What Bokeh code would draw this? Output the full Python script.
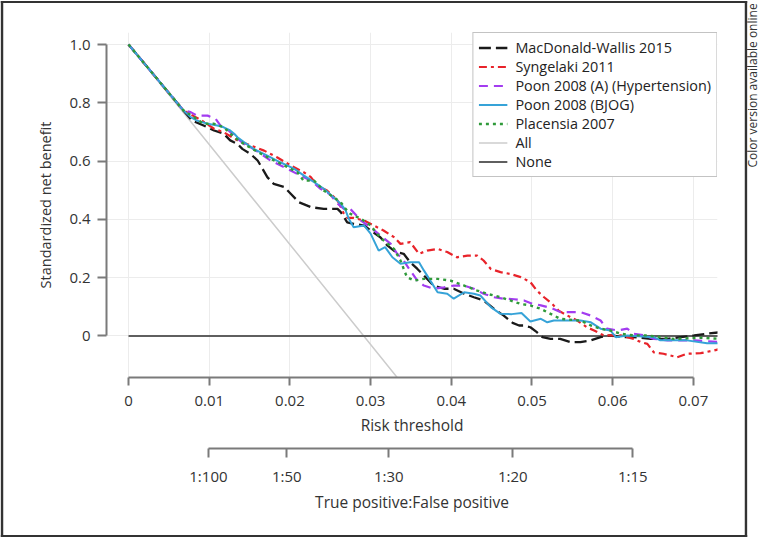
from bokeh.plotting import figure
from bokeh.models import (LinearAxis, FixedTicker, Legend, LegendItem, Label, Range1d)
from bokeh.embed import file_html
from bokeh.resources import INLINE

# ---------------- data ----------------
mw_x = [0, .0068, .0079, .0093, .0106, .0118, .0126, .0135, .0141, .0151, .0160, .0166, .0172,
        .0180, .0193, .0201, .0211, .0226, .0242, .0259, .0263, .0267, .0271, .0279, .0292, .0300,
        .0312, .0321, .0331, .0341, .0349, .0358, .0368, .0378, .0391, .0403, .0416, .0428, .0440,
        .0453, .0465, .0476, .0484, .0490, .0498, .0506, .0513, .0523, .0535, .0548, .0560, .0573,
        .0585, .0597, .0610, .0626, .0647, .0668, .0684, .0701, .0717, .0734]
mw_y = [1.0, .774, .739, .722, .705, .694, .671, .659, .642, .625, .602, .574, .545,
        .522, .511, .488, .459, .442, .436, .436, .425, .408, .390, .385, .379, .362,
        .339, .310, .288, .282, .253, .230, .202, .173, .162, .162, .145, .133, .122,
        .093, .070, .045, .036, .036, .030, .013, -.004, -.010, -.010, -.021, -.021, -.015,
        -.004, .002, -.004, -.004, -.010, -.010, -.004, .002, .008, .013]

sy_x = [0, .0068, .0091, .0106, .0118, .0135, .0151, .0168, .0184, .0201, .0217, .0226, .0234,
        .0246, .0259, .0267, .0271, .0279, .0292, .0304, .0316, .0329, .0337, .0349, .0360, .0370,
        .0383, .0395, .0407, .0420, .0432, .0440, .0449, .0461, .0473, .0486, .0498, .0506, .0515,
        .0525, .0533, .0544, .0556, .0568, .0577, .0589, .0610, .0626, .0635, .0643, .0651, .0663,
        .0680, .0692, .0709, .0725, .0734]
sy_y = [1.0, .774, .739, .711, .699, .671, .654, .636, .613, .585, .562, .545, .516,
        .499, .465, .419, .405, .405, .396, .379, .362, .339, .316, .322, .282, .293,
        .299, .288, .270, .276, .276, .259, .230, .219, .213, .202, .185, .156, .133,
        .110, .087, .070, .053, .030, .019, .002, .002, -.010, -.021, -.027, -.056, -.061,
        -.073, -.061, -.059, -.050, -.044]

pa_x = [0, .0068, .0077, .0085, .0098, .0108, .0114, .0124, .0133, .0143, .0151, .0164, .0176,
        .0193, .0209, .0226, .0238, .0250, .0259, .0267, .0275, .0288, .0300, .0312, .0325, .0333,
        .0341, .0349, .0358, .0366, .0378, .0391, .0403, .0416, .0428, .0440, .0453, .0465, .0478,
        .0490, .0498, .0511, .0523, .0535, .0560, .0573, .0585, .0593, .0606, .0618, .0626, .0639,
        .0651, .0668, .0701, .0734]
pa_y = [1.0, .774, .768, .756, .756, .745, .722, .705, .682, .659, .648, .625, .602,
        .579, .556, .533, .505, .485, .454, .436, .436, .396, .373, .345, .316, .282,
        .259, .225, .190, .173, .162, .167, .173, .173, .162, .145, .133, .128, .126,
        .122, .113, .105, .097, .082, .082, .070, .053, .025, .019, .025, .008, .002,
        -.010, -.015, -.015, -.021]

pb_x = [0, .0068, .0077, .0085, .0098, .0110, .0118, .0126, .0131, .0135, .0143, .0155, .0172,
        .0188, .0205, .0217, .0230, .0242, .0254, .0263, .0269, .0273, .0279, .0292, .0300, .0310,
        .0318, .0327, .0337, .0349, .0360, .0366, .0374, .0383, .0395, .0403, .0416, .0428, .0436,
        .0449, .0461, .0475, .0487, .0498, .0511, .0519, .0527, .0560, .0573, .0585, .0597, .0604,
        .0618, .0651, .0659, .0692, .0717, .0734]
pb_y = [1.0, .774, .751, .739, .728, .722, .716, .705, .694, .682, .665, .642, .619,
        .596, .574, .551, .528, .505, .476, .454, .431, .402, .373, .379, .351, .293,
        .305, .270, .248, .253, .253, .225, .190, .150, .145, .128, .150, .145, .139,
        .099, .076, .075, .079, .050, .059, .047, .053, .053, .047, .025, .019, -.004,
        .002, -.004, -.015, -.015, -.025, -.025]

pl_x = [0, .0068, .0081, .0093, .0106, .0118, .0131, .0143, .0160, .0176, .0193, .0209, .0217,
        .0230, .0242, .0254, .0263, .0269, .0275, .0288, .0300, .0308, .0316, .0329, .0337, .0345,
        .0354, .0366, .0383, .0399, .0416, .0432, .0444, .0461, .0473, .0486, .0498, .0511, .0523,
        .0535, .0560, .0573, .0585, .0597, .0610, .0626, .0643, .0659, .0676, .0709, .0734]
pl_y = [1.0, .774, .751, .728, .728, .716, .682, .659, .631, .608, .585, .562, .533,
        .533, .499, .476, .459, .436, .419, .402, .379, .351, .328, .299, .259, .202,
        .190, .196, .196, .190, .173, .156, .145, .133, .122, .110, .105, .093, .076,
        .059, .053, .036, .025, .019, .008, .002, .002, -.004, -.010, -.006, -.010]

all_x = [0, 0.01, 0.02, 0.03, 0.0334]
all_y = [1.0, 0.657, 0.314, -0.029, -0.146]

none_x = [0, 0.0734]
none_y = [0, 0]

series_names = ["MacDonald-Wallis 2015", "Syngelaki 2011", "Poon 2008 (A) (Hypertension)",
                "Poon 2008 (BJOG)", "Placensia 2007", "All", "None"]

x_ticks = [0, 0.01, 0.02, 0.03, 0.04, 0.05, 0.06, 0.07]
x_tick_labels = ["0", "0.01", "0.02", "0.03", "0.04", "0.05", "0.06", "0.07"]
y_ticks = [0, 0.2, 0.4, 0.6, 0.8, 1.0]
y_tick_labels = ["0", "0.2", "0.4", "0.6", "0.8", "1.0"]
odds = [100, 50, 30, 20, 15]
odds_labels = ["1:100", "1:50", "1:30", "1:20", "1:15"]

FONT = "Open Sans"

p = figure(width=761, height=538, output_backend="svg", toolbar_location=None,
           x_range=Range1d(-0.00273, 0.07299), y_range=Range1d(-0.1424, 1.0412),
           min_border_left=106, min_border_top=32, min_border_right=44, min_border_bottom=161)
p.outline_line_color = None
p.background_fill_color = "white"
p.border_fill_color = "white"

# grids
p.xgrid.ticker = FixedTicker(ticks=x_ticks)
p.ygrid.ticker = FixedTicker(ticks=y_ticks)
for g in (p.xgrid, p.ygrid):
    g.grid_line_color = "#ececec"
    g.grid_line_width = 1

def style_axis(ax, tick_size="15px", title_size="15.5px"):
    ax.axis_line_color = "#7a7a7a"
    ax.axis_line_width = 2
    ax.major_tick_line_color = "#7a7a7a"
    ax.major_tick_line_width = 2
    ax.major_tick_in = 0
    ax.minor_tick_line_color = None
    ax.major_label_text_font = FONT
    ax.major_label_text_font_size = tick_size
    ax.major_label_text_color = "#333333"
    ax.axis_label_text_font = FONT
    ax.axis_label_text_font_size = title_size
    ax.axis_label_text_font_style = "normal"
    ax.axis_label_text_color = "#333333"

xa = p.xaxis[0]
style_axis(xa)
xa.ticker = FixedTicker(ticks=x_ticks)
xa.major_label_overrides = {t: l for t, l in zip(x_ticks, x_tick_labels)}
xa.bounds = (x_ticks[0], x_ticks[-1])
xa.major_tick_out = 8
xa.major_label_standoff = 10
xa.axis_label = "Risk threshold"
xa.axis_label_standoff = 5

ya = p.yaxis[0]
style_axis(ya, tick_size="15px", title_size="14.5px")
ya.ticker = FixedTicker(ticks=y_ticks)
ya.major_label_overrides = {t: l for t, l in zip(y_ticks, y_tick_labels)}
ya.bounds = (y_ticks[0], y_ticks[-1])
ya.major_tick_out = 9
ya.major_label_standoff = 7
ya.axis_label = "Standardized net benefit"
ya.axis_label_standoff = 11

# spacer between the two bottom axes
spacer = LinearAxis(ticker=FixedTicker(ticks=[]), axis_line_color=None,
                    major_tick_line_color=None, minor_tick_line_color=None,
                    major_tick_out=0, major_tick_in=0, major_label_standoff=0,
                    axis_label=" ", axis_label_standoff=0,
                    axis_label_text_font_size="7px", axis_label_text_alpha=0)
p.add_layout(spacer, "below")

odds_ticks = [1.0 / (1 + o) for o in odds]
ax2 = LinearAxis()
style_axis(ax2)
ax2.ticker = FixedTicker(ticks=odds_ticks)
ax2.major_label_overrides = {t: l for t, l in zip(odds_ticks, odds_labels)}
ax2.bounds = (odds_ticks[0], odds_ticks[-1])
ax2.major_tick_out = 9
ax2.major_label_standoff = 8
ax2.axis_label = "True positive:False positive"
ax2.axis_label_standoff = 2
p.add_layout(ax2, "below")

# lines
r_all = p.line(all_x, all_y, line_color="#cccccc", line_width=1.5)
r_none = p.line(none_x, none_y, line_color="#5f5f5f", line_width=1.8)
r_mw = p.line(mw_x, mw_y, line_color="#1a1a1a", line_width=2.3, line_dash="12 5")
r_sy = p.line(sy_x, sy_y, line_color="#e8232a", line_width=2.2, line_dash="8 4 3 4")
r_pa = p.line(pa_x, pa_y, line_color="#a33cf0", line_width=2.2, line_dash="9 6")
r_pb = p.line(pb_x, pb_y, line_color="#36a3d8", line_width=2.0)
r_pl = p.line(pl_x, pl_y, line_color="#2f9a3a", line_width=2.4, line_dash="3 4")

renderers = [r_mw, r_sy, r_pa, r_pb, r_pl, r_all, r_none]
legend = Legend(items=[LegendItem(label=n, renderers=[r]) for n, r in zip(series_names, renderers)],
                location="top_right", margin=0, padding=5, spacing=0,
                label_height=19, glyph_height=19, glyph_width=29, label_standoff=8,
                label_text_font=FONT, label_text_font_size="14.4px", label_text_color="#222222",
                border_line_color="#888888", border_line_width=1,
                background_fill_color="white", background_fill_alpha=1.0)
p.add_layout(legend, "center")

# outer frame around the chart: four thin filled label boxes, each put in the side
# panel it borders (side panels are not clipped to the plotting area).
# padding is (horizontal, vertical); positions are in data units.
def edge(x, y, pad, side):
    lab = Label(x=x, y=y, text=" ", text_font=FONT, text_font_size="1.5px",
                text_align="center", text_baseline="middle", padding=pad,
                background_fill_color="#333333", border_line_color=None)
    p.add_layout(lab, side)

edge(0.030421, 1.14580, (373, 0), "above")     # top edge
edge(0.030421, -0.68611, (373, 0), "below")    # bottom edge
edge(-0.015675, 0.22985, (1, 267), "left")     # left edge
edge(0.076518, 0.22985, (1, 267), "right")     # right edge

note = Label(x=0.07732, y=0.578, angle=90, angle_units="deg",
             text="Color version available online", text_font=FONT, text_font_size="12px",
             text_color="#333333", text_align="left", text_baseline="middle")
p.add_layout(note, "right")

open("out.html", "w").write(file_html(p, INLINE))
